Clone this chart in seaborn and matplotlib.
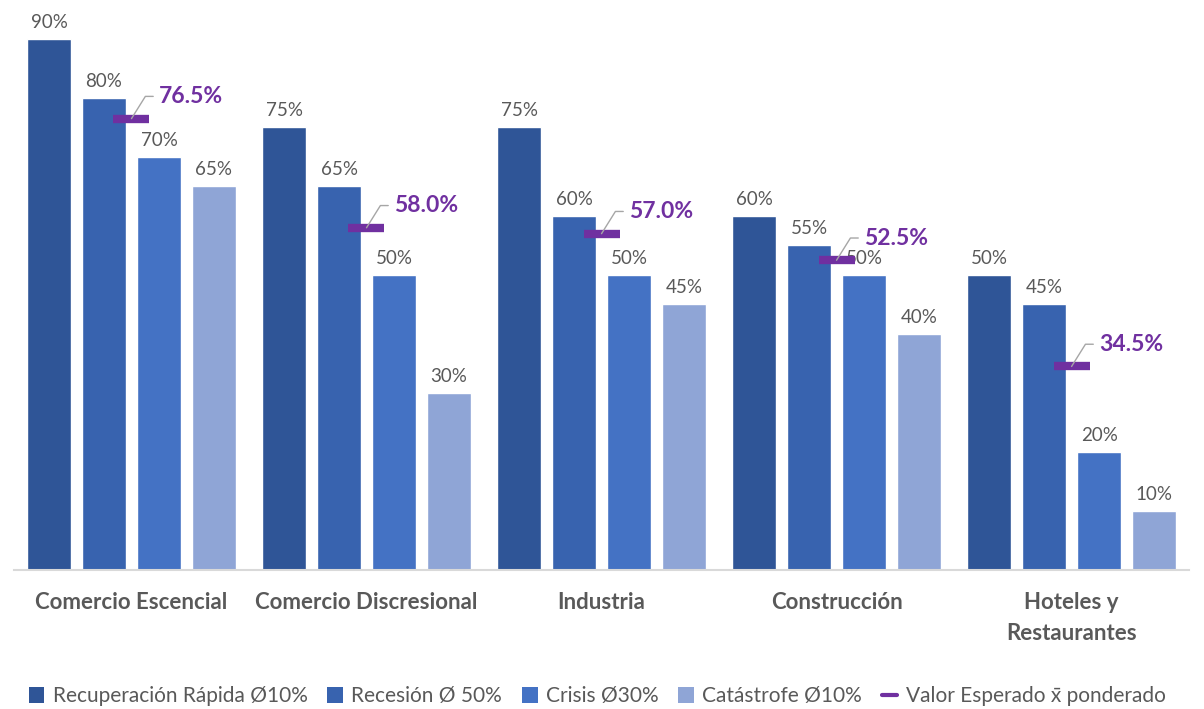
import matplotlib
matplotlib.use("Agg")
import matplotlib.pyplot as plt
from matplotlib.lines import Line2D
from matplotlib.patches import Patch
import numpy as np
import pandas as pd
import seaborn as sns

sectores = ["Comercio Escencial", "Comercio Discresional", "Industria",
            "Construcción", "Hoteles y\nRestaurantes"]
escenarios = ["Recuperación Rápida Ø10%", "Recesión Ø 50%", "Crisis Ø30%",
              "Catástrofe Ø10%"]
recuperacion = [90, 75, 75, 60, 50]
recesion = [80, 65, 60, 55, 45]
crisis = [70, 50, 50, 50, 20]
catastrofe = [65, 30, 45, 40, 10]
valor_esperado = [76.5, 58.0, 57.0, 52.5, 34.5]
etiqueta_esperado = "Valor Esperado x̄ ponderado"

colores = ["#2F5597", "#3863AF", "#4472C4", "#8FA5D6"]
morado = "#7030A0"
gris_texto = "#595959"

df = pd.DataFrame({
    "sector": np.repeat(sectores, 4),
    "escenario": escenarios * len(sectores),
    "valor": np.column_stack([recuperacion, recesion, crisis, catastrofe]).ravel(),
})

sns.set_style("white")
plt.rcParams["font.family"] = ["Lato", "DejaVu Sans"]

fig = plt.figure(figsize=(12.04, 7.09), dpi=100)
ax = fig.add_axes([0.0116, 0.196, 0.976, 0.804])

sns.barplot(data=df, x="sector", y="valor", hue="escenario", order=sectores,
            hue_order=escenarios, palette=colores, width=0.936, gap=0.2,
            saturation=1, errorbar=None, legend=False, ax=ax)

for cont in ax.containers:
    ax.bar_label(cont, fmt="%.0f%%", padding=6, fontsize=13.5, color=gris_texto)

# Weighted expected value per sector
pos = np.arange(len(sectores))
ax.plot(pos, valor_esperado, linestyle="none", marker="_", ms=26, mew=6,
        color=morado, zorder=5)
for x, v in zip(pos, valor_esperado):
    ax.annotate(f"{v:.1f}%", xy=(x, v), xytext=(20, 16), textcoords="offset points",
                ha="left", va="center", fontsize=16.5, fontweight="bold", color=morado,
                arrowprops=dict(arrowstyle="-", color="#A6A6A6", lw=1,
                                connectionstyle="angle,angleA=0,angleB=58,rad=0",
                                shrinkA=2, shrinkB=0),
                zorder=6)

ax.set_xlim(-0.5, len(sectores) - 0.5)
ax.set_ylim(0, 96.6)
ax.set_xlabel("")
ax.set_ylabel("")
ax.set_yticks([])
ax.tick_params(axis="x", length=0, pad=16)
ax.set_xticks(pos)
ax.set_xticklabels(sectores, fontsize=16, fontweight="bold", color=gris_texto,
                   va="top", linespacing=1.55)
for s in ["top", "right", "left"]:
    ax.spines[s].set_visible(False)
ax.spines["bottom"].set_color("#D9D9D9")
ax.spines["bottom"].set_linewidth(1.5)

handles = [Patch(facecolor=c, edgecolor="none") for c in colores]
handles.append(Line2D([0], [0], color=morado, lw=3))
fig.legend(handles, escenarios + [etiqueta_esperado], loc="center",
           bbox_to_anchor=(0.496, 0.018), ncol=5, frameon=False, fontsize=15,
           labelcolor=gris_texto, handlelength=0.75, handleheight=0.75,
           handletextpad=0.4, columnspacing=0.95)

fig.savefig("out.png", dpi=100)
